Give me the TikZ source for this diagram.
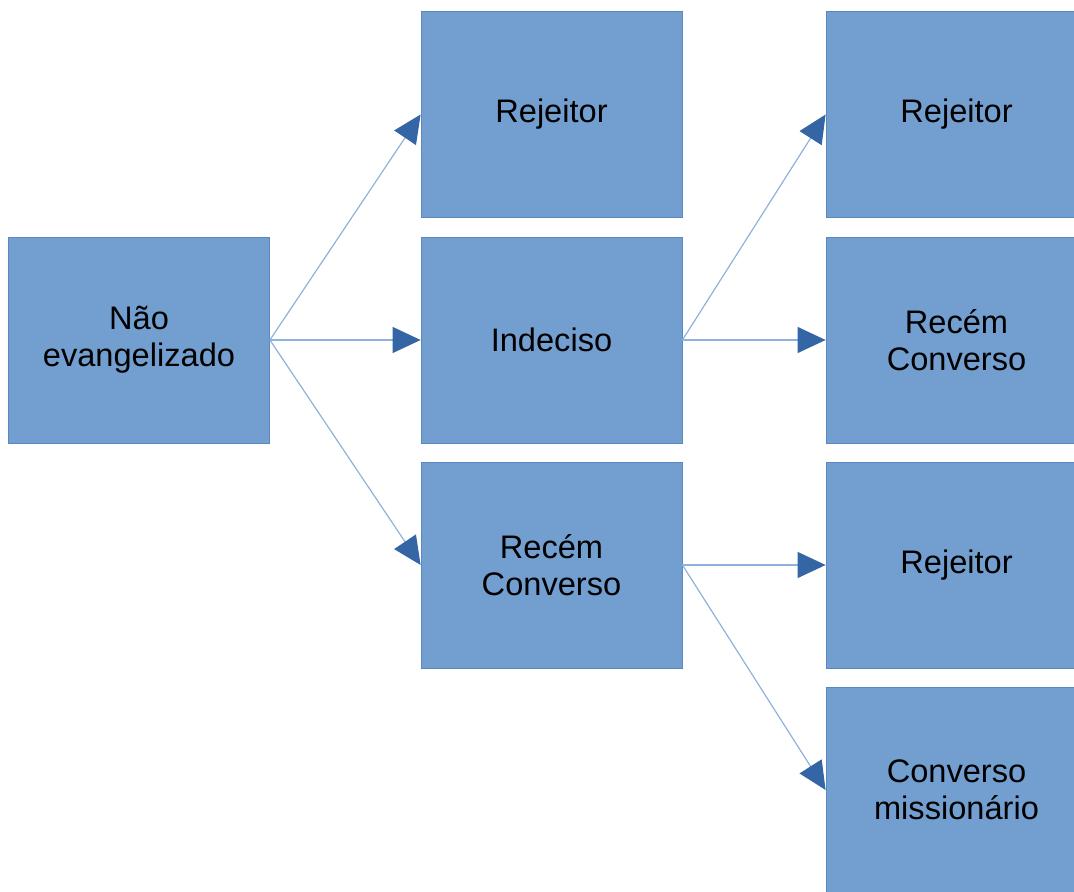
\documentclass[tikz,border=0pt]{standalone}
\usepackage{fontspec}
\setmainfont{Liberation Sans}
\definecolor{boxfill}{HTML}{729FCF}
\definecolor{boxline}{HTML}{5A88C0}
\definecolor{arrowtip}{HTML}{3465A4}
\definecolor{linkline}{HTML}{8EB2DC}
\usetikzlibrary{arrows.meta, positioning}

\begin{document}
\begin{tikzpicture}[
  x=0.5pt, y=-0.5pt,
  stage/.style={draw=boxline, fill=boxfill, line width=0.4pt,
                minimum width=130.5pt, minimum height=103pt, inner sep=0pt,
                align=center, font=\fontsize{16.3}{18.5}\selectfont},
  link/.style={draw=linkline, line width=0.6pt,
               -{Triangle[length=14pt, width=13pt, color=arrowtip]}}
]
\useasboundingbox (0,0) rectangle (1074,892);
\clip (0,0) rectangle (1074,892);

\node[stage] (naoev) at (139,340) {Não\\evangelizado};

\node[stage] (rej1) at (551.5,114.5) {Rejeitor};
\node[stage] (indec) at (551.5,340) {Indeciso};
\node[stage] (recem1) at (551.5,565) {Recém\\Converso};

\node[stage] (rej2) at (956.5,114.5) {Rejeitor};
\node[stage] (recem2) at (956.5,340) {Recém\\Converso};
\node[stage] (rej3) at (956.5,565) {Rejeitor};
\node[stage] (missao) at (956.5,790) {Converso\\missionário};

\draw[link] (naoev.east) -- (rej1.west);
\draw[link] (naoev.east) -- (indec.west);
\draw[link] (naoev.east) -- (recem1.west);

\draw[link] (indec.east) -- (rej2.west);
\draw[link] (indec.east) -- (recem2.west);

\draw[link] (recem1.east) -- (rej3.west);
\draw[link] (recem1.east) -- (missao.west);
\end{tikzpicture}
\end{document}
